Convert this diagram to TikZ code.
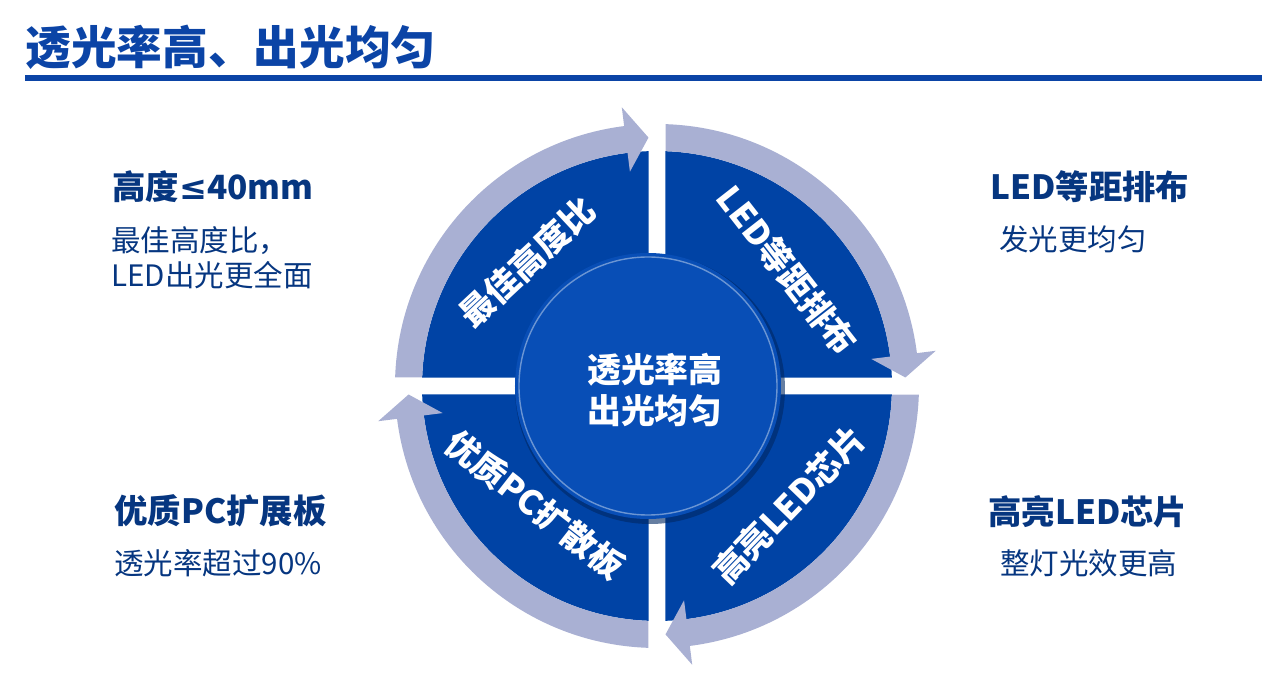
\documentclass[tikz,border=0pt]{standalone}
\usepackage{fontspec}
\setmainfont{Noto Sans CJK SC}
\newfontfamily\heavyfont{Noto Sans CJK SC Black}
\newfontfamily\symbolfont{DejaVu Sans}
\usepackage{xcolor}

\definecolor{titleblue}{RGB}{11,68,166}
\definecolor{navy}{RGB}{6,54,128}
\definecolor{darkblue}{RGB}{0,67,165}
\definecolor{midblue}{RGB}{8,78,182}
\definecolor{ringblue}{RGB}{169,176,211}

\tikzset{
    heading/.style={anchor=west, inner sep=0, text=navy, font=\bfseries\fontsize{19}{22}\selectfont},
    bodytext/.style={anchor=west, inner sep=0, text=navy, align=left, font=\fontsize{16.8}{19.9}\selectfont},
    quadtext/.style={inner sep=0, text=white, font=\bfseries\fontsize{19.3}{23}\selectfont}
}

\begin{document}
\begin{tikzpicture}[x=0.02cm, y=0.02cm]
    \useasboundingbox (-657,-290) rectangle (629,386);

    % title and bar
    \node[anchor=west, inner sep=0, text=titleblue, font=\heavyfont\fontsize{26}{30}\selectfont] (title) at (-632,339) {透光率高、出光均匀};
    \fill[titleblue] (-632,305) rectangle (605,311);

    % four sectors with curved arrows
    \foreach \a in {0,-90,-180,-270} {
        \begin{scope}[rotate=\a]
            \fill[darkblue] (-8.5,8.5) -- (92.07:235) arc[start angle=92.07, end angle=177.93, radius=235] -- cycle;
            \fill[ringblue] (178.1:262) arc[start angle=178.1, end angle=97.2, radius=262]
                -- (97.2:281) -- (-8.5,248.4) -- (97.2:216) -- (97.2:235)
                arc[start angle=97.2, end angle=177.9, radius=235] -- cycle;
        \end{scope}
    }

    % centre disc
    \fill[darkblue!60!black, opacity=0.6] (-7,-3) circle[radius=135];
    \fill[midblue] (-9,0) circle[radius=133];
    \draw[midblue!60!white, line width=0.8pt] (-9,0) circle[radius=129];
    \node[align=center, inner sep=0, text=white, font=\bfseries\fontsize{19.3}{23.3}\selectfont] (ctr) at (-2,-4) {透光率高\\出光均匀};

    % sector labels
    \node[quadtext, rotate=43] (q1) at (-130,124) {最佳高度比};
    \node[quadtext, rotate=-52] (q2) at (130,116) {LED等距排布};
    \node[quadtext, rotate=-38] (q3) at (-122,-119) {优质PC扩散板};
    \node[quadtext, rotate=46] (q4) at (132,-119) {高亮LED芯片};

    % side texts
    \node[heading] (hd1) at (-545,199) {高度{\symbolfont ≤}40mm};
    \node[bodytext] (bd1) at (-546,128.5) {最佳高度比，\\LED出光更全面};
    \node[heading] (hd2) at (333,199) {LED等距排布};
    \node[bodytext] (bd2) at (342,147) {发光更均匀};
    \node[heading] (hd3) at (-543,-125) {优质PC扩展板};
    \node[bodytext] (bd3) at (-543,-177) {透光率超过90\%};
    \node[heading] (hd4) at (331,-126) {高亮LED芯片};
    \node[bodytext] (bd4) at (343,-177) {整灯光效更高};
\end{tikzpicture}
\end{document}
